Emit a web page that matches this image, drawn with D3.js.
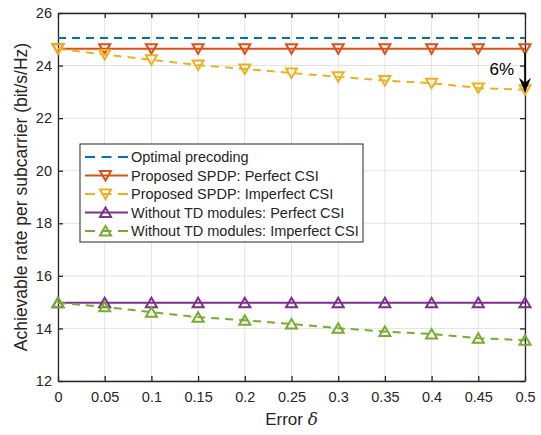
<!DOCTYPE html>
<html><head><meta charset="utf-8">
<script src="https://cdn.jsdelivr.net/npm/d3@7"></script>
<style>body{margin:0;background:#fff}svg{display:block}text{font-family:"Liberation Sans",Arial,sans-serif;fill:#262626}</style>
</head><body><svg id="c" width="541" height="435"></svg>
<script>
const xValues = [0,0.05,0.1,0.15,0.2,0.25,0.3,0.35,0.4,0.45,0.5];
const optimal = [25.05,25.05,25.05,25.05,25.05,25.05,25.05,25.05,25.05,25.05,25.05];
const spdpPerfect = [24.64,24.64,24.64,24.64,24.64,24.64,24.64,24.64,24.64,24.64,24.64];
const spdpImperfect = [24.64,24.42,24.22,24.02,23.87,23.72,23.57,23.43,23.33,23.15,23.08];
const tdPerfect = [14.98,14.98,14.98,14.98,14.98,14.98,14.98,14.98,14.98,14.98,14.98];
const tdImperfect = [14.98,14.82,14.62,14.43,14.31,14.17,14.01,13.88,13.79,13.63,13.55];
const xTicks = [0,0.05,0.1,0.15,0.2,0.25,0.3,0.35,0.4,0.45,0.5];
const xTickLabels = ["0","0.05","0.1","0.15","0.2","0.25","0.3","0.35","0.4","0.45","0.5"];
const yTicks = [12,14,16,18,20,22,24,26];
const seriesNames = ["Optimal precoding","Proposed SPDP: Perfect CSI","Proposed SPDP: Imperfect CSI","Without TD modules: Perfect CSI","Without TD modules: Imperfect CSI"];

const series = [
  {name:seriesNames[0], values:optimal, color:"#0072BD", dash:"8,6", marker:null},
  {name:seriesNames[1], values:spdpPerfect, color:"#D95319", dash:null, marker:"down"},
  {name:seriesNames[2], values:spdpImperfect, color:"#EDB120", dash:"8,6", marker:"down"},
  {name:seriesNames[3], values:tdPerfect, color:"#7E2F8E", dash:null, marker:"up"},
  {name:seriesNames[4], values:tdImperfect, color:"#77AC30", dash:"8,6", marker:"up"}
];

const svg = d3.select("#c");
const L=58, R=525, T=13, B=381;
const x = d3.scaleLinear().domain([0,0.5]).range([L,R]);
const y = d3.scaleLinear().domain([12,26]).range([B,T]);

// grid
svg.append("g").selectAll("line.gx").data(xTicks).join("line")
  .attr("x1",d=>x(d)).attr("x2",d=>x(d)).attr("y1",T).attr("y2",B)
  .attr("stroke","#e3e3e3").attr("stroke-width",1);
svg.append("g").selectAll("line.gy").data(yTicks).join("line")
  .attr("y1",d=>y(d)).attr("y2",d=>y(d)).attr("x1",L).attr("x2",R)
  .attr("stroke","#e3e3e3").attr("stroke-width",1);

// axes
const axC="#262626";
const xb = svg.append("g").attr("transform",`translate(0,${B})`)
  .call(d3.axisBottom(x).tickValues(xTicks).tickFormat((d,i)=>xTickLabels[i]).tickSizeInner(-5).tickSizeOuter(0).tickPadding(11));
const xt = svg.append("g").attr("transform",`translate(0,${T})`)
  .call(d3.axisTop(x).tickValues(xTicks).tickFormat("").tickSizeInner(-5).tickSizeOuter(0));
const yl = svg.append("g").attr("transform",`translate(${L},0)`)
  .call(d3.axisLeft(y).tickValues(yTicks).tickSizeInner(-5).tickSizeOuter(0).tickPadding(6));
const yr = svg.append("g").attr("transform",`translate(${R},0)`)
  .call(d3.axisRight(y).tickValues(yTicks).tickFormat("").tickSizeInner(-5).tickSizeOuter(0));
[xb,xt,yl,yr].forEach(g=>{
  g.selectAll("path.domain").attr("stroke",axC).attr("stroke-width",1.3);
  g.selectAll(".tick line").attr("stroke",axC).attr("stroke-width",1.3);
  g.selectAll(".tick text").attr("font-size",14.5).attr("font-family","Liberation Sans, Arial, sans-serif").attr("fill","#262626");
});

const tri = (t)=> t==="down" ? "M-5.5,-4.5L5.5,-4.5L0,5Z" : "M-5.5,4.5L5.5,4.5L0,-5Z";

const line = d3.line().x((d,i)=>x(xValues[i])).y(d=>y(d));
const plot = svg.append("g");
series.forEach(s=>{
  plot.append("path").attr("d",line(s.values)).attr("fill","none")
    .attr("stroke",s.color).attr("stroke-width",2).attr("stroke-dasharray",s.dash);
  if(s.marker){
    plot.append("g").selectAll("path").data(s.values).join("path")
      .attr("transform",(d,i)=>`translate(${x(xValues[i])},${y(d)})`)
      .attr("d",tri(s.marker)).attr("fill","none").attr("stroke",s.color).attr("stroke-width",2);
  }
});

// annotation arrow
const ax = x(0.5), ay1 = y(spdpPerfect[10])+4, tip = y(spdpImperfect[10])+3;
svg.append("line").attr("x1",ax).attr("x2",ax).attr("y1",ay1).attr("y2",tip-10)
  .attr("stroke","#000").attr("stroke-width",1.6);
svg.append("path").attr("d",`M${ax-6},${tip-15}L${ax},${tip}L${ax+6},${tip-15}L${ax},${tip-10}Z`).attr("fill","#000");
svg.append("text").attr("x",514).attr("y",75).attr("text-anchor","end")
  .attr("font-size",17).style("fill","#000").text("6%");

// legend
const lg = svg.append("g");
const lx=80, ly=144, lw=283, lh=98;
lg.append("rect").attr("x",lx).attr("y",ly).attr("width",lw).attr("height",lh)
  .attr("fill","#fff").attr("stroke","#262626").attr("stroke-width",1);
series.forEach((s,i)=>{
  const yy = ly+13+i*18.5;
  lg.append("line").attr("x1",lx+5).attr("x2",lx+48).attr("y1",yy).attr("y2",yy)
    .attr("stroke",s.color).attr("stroke-width",2).attr("stroke-dasharray",s.dash?"10,6.5":null);
  if(s.marker) lg.append("path").attr("transform",`translate(${lx+25.5},${yy})`).attr("d",tri(s.marker))
    .attr("fill","none").attr("stroke",s.color).attr("stroke-width",2);
  lg.append("text").attr("x",lx+51).attr("y",yy+5).attr("font-size",14.5).text(s.name);
});

// axis labels
svg.append("text").attr("x",(L+R)/2).attr("y",425).attr("text-anchor","middle").attr("font-size",17)
  .html('Error <tspan font-family="DejaVu Serif" font-style="italic">δ</tspan>');
svg.append("text").attr("transform",`translate(27,${(T+B)/2}) rotate(-90)`).attr("text-anchor","middle")
  .attr("font-size",17.5).text("Achievable rate per subcarrier (bit/s/Hz)");
</script></body></html>
